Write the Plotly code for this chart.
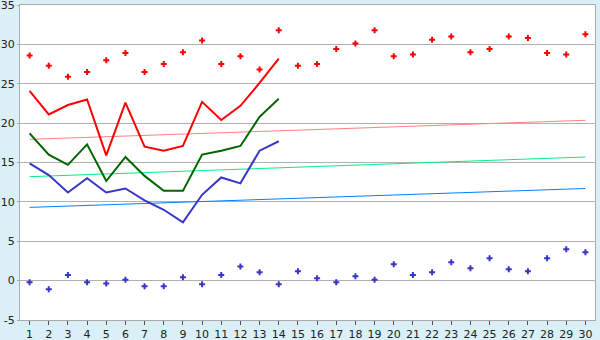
import plotly.graph_objects as go

days = list(range(1, 31))
line_days = list(range(1, 15))

red_points = [28.6, 27.3, 25.9, 26.5, 28.0, 28.9, 26.5, 27.5, 29.0, 30.5,
              27.5, 28.5, 26.8, 31.8, 27.3, 27.5, 29.4, 30.1, 31.8, 28.5,
              28.7, 30.6, 31.0, 29.0, 29.4, 31.0, 30.8, 28.9, 28.7, 31.3]
blue_points = [-0.2, -1.1, 0.7, -0.2, -0.35, 0.1, -0.7, -0.7, 0.42, -0.47,
               0.7, 1.8, 1.05, -0.47, 1.2, 0.3, -0.2, 0.55, 0.1, 2.07,
               0.7, 1.05, 2.33, 1.56, 2.83, 1.43, 1.2, 2.83, 3.97, 3.6]
red_line = [24.1, 21.1, 22.3, 23.0, 15.9, 22.6, 17.0, 16.5, 17.1, 22.7,
            20.4, 22.2, 25.1, 28.2]
green_line = [18.7, 16.0, 14.7, 17.3, 12.65, 15.7, 13.3, 11.4, 11.4, 16.0,
              16.5, 17.1, 20.8, 23.1]
blue_line = [14.9, 13.4, 11.2, 13.0, 11.2, 11.7, 10.2, 9.0, 7.4, 10.9,
             13.1, 12.35, 16.5, 17.7]
trend_days = [1, 30]
pink_trend = [17.94, 20.36]
spring_trend = [13.2, 15.7]
azure_trend = [9.3, 11.7]

y_ticks = [-5, 0, 5, 10, 15, 20, 25, 30, 35]
y_tick_text = ["-5", "0", "5", "10", "15", "20", "25", "30", "35"]

fig = go.Figure()
fig.add_trace(go.Scatter(x=trend_days, y=pink_trend, mode="lines",
                         line=dict(color="#ff8080", width=1)))
fig.add_trace(go.Scatter(x=trend_days, y=spring_trend, mode="lines",
                         line=dict(color="#00f080", width=1)))
fig.add_trace(go.Scatter(x=trend_days, y=azure_trend, mode="lines",
                         line=dict(color="#0080ff", width=1)))
fig.add_trace(go.Scatter(x=line_days, y=red_line, mode="lines",
                         line=dict(color="#ff0000", width=2)))
fig.add_trace(go.Scatter(x=line_days, y=green_line, mode="lines",
                         line=dict(color="#006400", width=2)))
fig.add_trace(go.Scatter(x=line_days, y=blue_line, mode="lines",
                         line=dict(color="#3636c8", width=2)))
fig.add_trace(go.Scatter(x=days, y=red_points, mode="markers",
                         marker=dict(symbol="cross", size=5, color="#ff0000")))
fig.add_trace(go.Scatter(x=days, y=blue_points, mode="markers",
                         marker=dict(symbol="cross", size=5, color="#3636c8")))

fig.update_layout(
    width=600, height=340,
    margin=dict(l=20, r=5, t=5, b=20),
    paper_bgcolor="#daeff6",
    plot_bgcolor="#ffffff",
    showlegend=False,
    font=dict(family="DejaVu Sans", size=11, color="#222222"),
)
fig.update_xaxes(range=[0.5, 30.5], tickvals=days, ticks="outside", ticklen=4,
                 tickcolor="#555555", showgrid=False, showline=True,
                 linecolor="#aaaaaa", mirror=True, zeroline=False,
                 automargin=False, ticklabeloverflow="allow",
                 tickfont=dict(size=11))
fig.update_yaxes(range=[-5, 35], tickvals=y_ticks, ticktext=y_tick_text,
                 ticks="outside", ticklen=2,
                 tickcolor="#aaaaaa", showgrid=True, gridcolor="#b0b0b0",
                 showline=True, linecolor="#aaaaaa", mirror=True,
                 zeroline=False, automargin=False, ticklabeloverflow="allow",
                 tickfont=dict(size=11))

fig.write_html("out.html")
